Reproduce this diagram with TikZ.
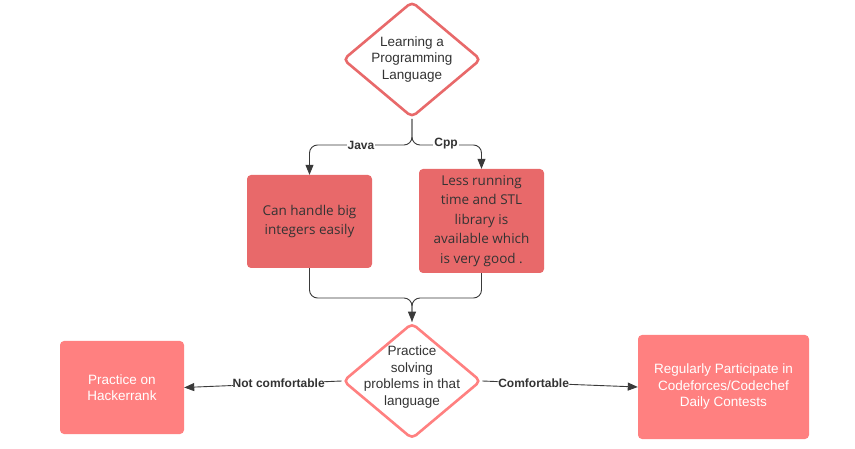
\documentclass[tikz,border=0pt]{standalone}
\usepackage{fontspec}
\setmainfont{Liberation Sans}
\newfontfamily\boxfont{Open Sans}
\usetikzlibrary{shapes.geometric,arrows.meta,calc}
\definecolor{darkred}{HTML}{E8696A}
\definecolor{lightred}{HTML}{FF8080}
\definecolor{txt}{HTML}{333333}
\definecolor{line}{HTML}{3A3A3A}
\tikzset{
  decision/.style={diamond,draw,line width=2.6pt,fill=white,rounded corners=5pt,inner sep=0pt,minimum width=#1},
  dtext/.style={align=center,text=txt,font=\fontsize{13.5}{16.5}\selectfont},
  topbox/.style={rectangle,fill=darkred,rounded corners=4pt,inner sep=0pt,align=center,text=txt,font=\boxfont\fontsize{13.5}{19.5}\selectfont},
  lowbox/.style={rectangle,fill=lightred,rounded corners=4pt,inner sep=0pt,align=center,text=white,font=\fontsize{13.5}{16.5}\selectfont},
  conn/.style={draw=line,line width=0.9pt,rounded corners=8pt},
  arr/.style={-{Triangle[length=10pt,width=8pt]}},
  lab/.style={fill=white,inner sep=1pt,text=txt,font=\bfseries\fontsize{12}{14}\selectfont}
}
\begin{document}
\begin{tikzpicture}[x=1pt,y=-1pt]
\useasboundingbox (0,0) rectangle (855,449);
% top decision
\node[decision=138pt,minimum height=116pt,draw=darkred] (d1) at (412,59.5) {};
\node[dtext] (d1t) at (412,59.5) {Learning a\\Programming\\Language};
% top boxes
\node[topbox,minimum width=125pt,minimum height=93pt] (b1) at (309.5,221.5) {Can handle big\\integers easily};
\node[topbox,minimum width=125pt,minimum height=104pt] (b2) at (481.5,221) {Less running\\time and STL\\library is\\available which\\is very good .};
% second decision
\node[decision=138pt,minimum height=116pt,draw=lightred] (d2) at (412,381) {};
\node[dtext] (d2t) at (412,377) {Practice\\solving\\problems in that\\language};
% lower boxes
\node[lowbox,minimum width=124pt,minimum height=93pt] (b3) at (122,387.5) {Practice on\\Hackerrank};
\node[lowbox,minimum width=171pt,minimum height=104pt] (b4) at (723.5,387) {Regularly Participate in\\Codeforces/Codechef\\Daily Contests};
% connectors from d1
\coordinate (j1) at (412,145);
\draw[conn,arr] (d1.south) -- (j1) -| (b1.north);
\draw[conn,arr] (d1.south) -- (j1) -| (b2.north);
\node[lab] (lj) at (361,145) {Java};
\node[lab] (lc) at (446,143.5) {Cpp};
% merge
\coordinate (j2) at (412,298);
\draw[conn] (b2.south) |- (j2) -- (d2.north);
\draw[conn,arr] (b1.south) |- (j2) -- (d2.north);
% bottom arrows
\draw[conn,arr] (d2.west) -- (b3.east) node[lab,pos=0.4] (ln) {Not comfortable};
\draw[conn,arr] (d2.east) -- (b4.west) node[lab,pos=0.33] (lco) {Comfortable};
\end{tikzpicture}
\end{document}
